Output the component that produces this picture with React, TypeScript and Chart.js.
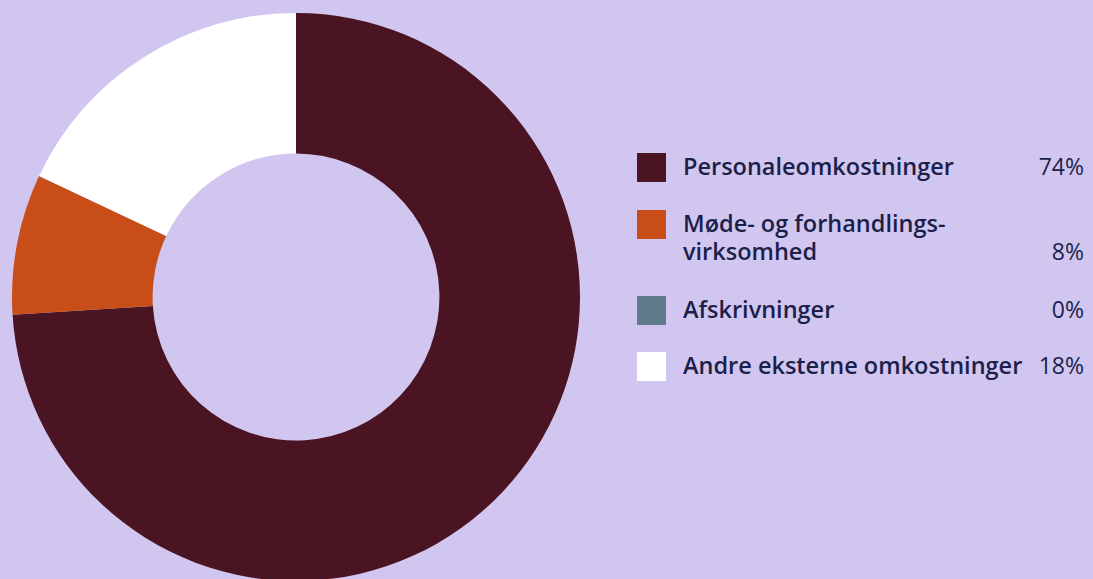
import React, { useEffect, useRef } from "react";
import { Chart, registerables } from "chart.js";

Chart.register(...registerables);

const categories = [
  "Personaleomkostninger",
  "Møde- og forhandlings-\nvirksomhed",
  "Afskrivninger",
  "Andre eksterne omkostninger",
];
const values = [74, 8, 0, 18];
const colors = ["#4a1423", "#c84d18", "#5f7b8c", "#ffffff"];
const pctLabels = ["74%", "8%", "0%", "18%"];

const BG = "#d1c6ef";
const TEXT = "#1c1f4a";
const FONT = "'Open Sans', sans-serif";

const rowTops = [153, 210, 296, 352];

export default function App() {
  const ref = useRef<HTMLCanvasElement | null>(null);

  useEffect(() => {
    if (!ref.current) return;
    const chart = new Chart(ref.current, {
      type: "doughnut",
      data: {
        labels: categories,
        datasets: [
          {
            data: values,
            backgroundColor: colors,
            borderWidth: 0,
          },
        ],
      },
      options: {
        animation: false,
        responsive: true,
        maintainAspectRatio: false,
        cutout: "50.5%",
        layout: { padding: 0 },
        plugins: {
          legend: { display: false },
          tooltip: { enabled: false },
        },
      },
    });
    return () => chart.destroy();
  }, []);

  return (
    <div
      style={{
        position: "fixed",
        left: 0,
        top: 0,
        width: 1093,
        height: 579,
        background: BG,
        overflow: "hidden",
        fontFamily: FONT,
      }}
    >
      <div
        style={{
          position: "absolute",
          left: 12,
          top: 13,
          width: 568,
          height: 568,
        }}
      >
        <canvas ref={ref} />
      </div>
      {categories.map((c, i) => {
        const lines = c.split("\n");
        return (
          <div key={i}>
            <div
              style={{
                position: "absolute",
                left: 637,
                top: rowTops[i],
                width: 29,
                height: 29,
                background: colors[i],
              }}
            />
            <div
              style={{
                position: "absolute",
                left: 683,
                top: rowTops[i] - 1,
                fontSize: 23.5,
                lineHeight: "28px",
                fontWeight: 600,
                color: TEXT,
                whiteSpace: "pre",
              }}
            >
              {lines.join("\n")}
            </div>
            <div
              style={{
                position: "absolute",
                right: 1093 - 1084,
                top: rowTops[i] - 1 + (lines.length - 1) * 28,
                fontSize: 23,
                lineHeight: "28px",
                fontWeight: 500,
                color: TEXT,
                textAlign: "right",
              }}
            >
              {pctLabels[i]}
            </div>
          </div>
        );
      })}
    </div>
  );
}
